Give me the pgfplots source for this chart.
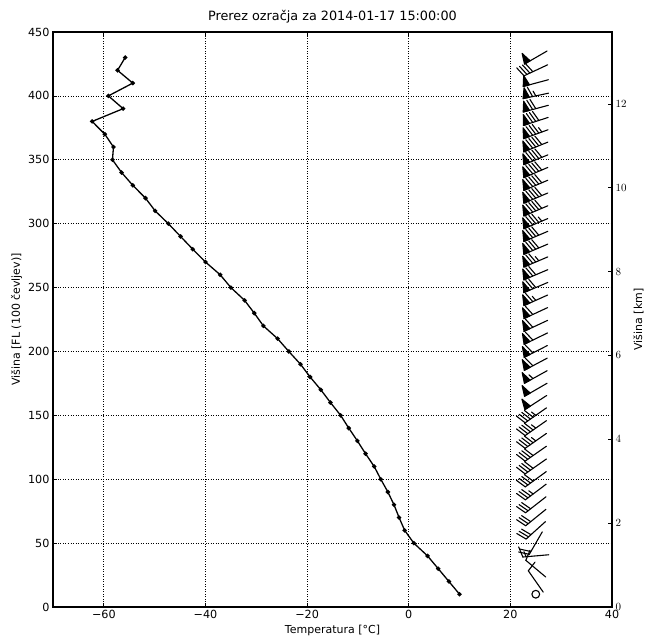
\documentclass[border=0pt]{standalone}
\usepackage{pgfplots}
\pgfplotsset{compat=1.18}
\usepackage{pgfplotstable}
\usepackage{fontspec}
\setmainfont{DejaVu Sans}

\pgfplotstableread{
FL T
10 10.0
20 7.9
30 5.8
40 3.7
50 1.0
60 -0.8
70 -1.9
80 -2.9
90 -4.1
100 -5.5
110 -6.8
120 -8.5
130 -10.1
140 -11.8
150 -13.4
160 -15.4
170 -17.3
180 -19.4
190 -21.3
200 -23.6
210 -25.8
220 -28.6
230 -30.4
240 -32.3
250 -35.0
260 -37.1
270 -40.0
280 -42.5
290 -44.9
300 -47.3
310 -49.9
320 -51.8
330 -54.3
340 -56.5
350 -58.3
360 -58.1
370 -59.8
380 -62.3
390 -56.2
400 -59.1
410 -54.3
420 -57.3
430 -55.8
}\temptable

% wind: position (x, FL), meta = speed [kt] / staff angle [deg]
\pgfplotstableread{
x FL m
25 10 0/0
25 20 10/-55
25 30 10/-40
25 40 15/5
25 50 20/60
25 60 30/42
25 70 30/39
25 80 30/38
25 90 35/37
25 100 40/36
25 110 40/35
25 120 40/35
25 130 45/35
25 140 45/35
25 150 45/35
25 160 50/33
25 170 50/30
25 180 55/29
25 190 60/28
25 200 60/27
25 210 60/26
25 220 60/25
25 230 60/25
25 240 65/24
25 250 70/23
25 260 70/23
25 270 75/23
25 280 80/23
25 290 80/23
25 300 85/23
25 310 90/23
25 320 90/23
25 330 90/23
25 340 90/23
25 350 90/22
25 360 90/22
25 370 85/20
25 380 80/18
25 390 70/15
25 400 65/12
25 410 50/15
25 420 40/25
25 430 50/30
}\windtable

\def\parsebarb#1/#2\relax{\def\barbspd{#1}\def\barbang{#2}}

\pgfdeclareplotmark{barb}{%
  \pgfsetroundjoin\pgfsetroundcap
  \pgfmathtruncatemacro\bspd{round(\barbspd/5)*5}%
  \ifnum\bspd<5\relax
    \pgfpathcircle{\pgfpointorigin}{3.9pt}\pgfusepath{stroke}%
  \else
    \pgftransformrotate{\barbang}%
    \pgfmathtruncatemacro\bnf{floor(\bspd/50)}%
    \pgfmathtruncatemacro\bnb{floor((\bspd-50*\bnf)/10)}%
    \pgfmathtruncatemacro\bnh{(\bspd-50*\bnf-10*\bnb)/5}%
    \pgfpathmoveto{\pgfqpoint{13pt}{0pt}}%
    \pgfpathlineto{\pgfqpoint{-13pt}{0pt}}%
    \pgfusepath{stroke}%
    \def\bo{26}%
    \ifnum\bnf>0\relax
      \pgfpathmoveto{\pgfqpoint{-13pt}{0pt}}%
      \pgfpathlineto{\pgfqpoint{-9.75pt}{10.4pt}}%
      \pgfpathlineto{\pgfqpoint{-6.5pt}{0pt}}%
      \pgfpathclose
      \pgfusepath{fill,stroke}%
      \def\bo{16.25}%
    \fi
    \ifnum\bnb>0\relax
      \foreach \j in {1,...,\bnb}{%
        \pgfmathsetmacro\bx{13-\bo+(\j-1)*3.25}%
        \pgfpathmoveto{\pgfpoint{\bx pt}{0pt}}%
        \pgfpathlineto{\pgfpoint{\bx pt-3.25pt}{10.4pt}}%
        \pgfusepath{stroke}%
      }%
    \fi
    \ifnum\bnh>0\relax
      \pgfmathsetmacro\bh{\bo-\bnb*3.25}%
      \ifdim\bh pt=26pt \pgfmathsetmacro\bh{\bh-4.875}\fi
      \pgfmathsetmacro\bx{13-\bh}%
      \pgfpathmoveto{\pgfpoint{\bx pt}{0pt}}%
      \pgfpathlineto{\pgfpoint{\bx pt-1.625pt}{5.2pt}}%
      \pgfusepath{stroke}%
    \fi
  \fi
}

\begin{document}
\begin{tikzpicture}
\begin{axis}[name=main,
  scale only axis, width=559pt, height=575pt,
  xmin=-70, xmax=40, ymin=0, ymax=450,
  xtick={-60,-40,-20,0,20,40},
  xticklabels={−60,−40,−20,0,20,40},
  ytick={0,50,...,450},
  yticklabels={0,50,100,150,200,250,300,350,400,450},
  ytick pos=left, xtick pos=both,
  tick align=inside, major tick length=4pt,
  tick style={black, line width=0.7pt},
  axis line style={black, line width=1.3pt},
  grid=major,
  grid style={black, line width=0.7pt, dash pattern=on 1pt off 1.5pt},
  title={Prerez ozračja za 2014-01-17 15:00:00},
  title style={font=\fontsize{12.8}{14}\selectfont, yshift=-1pt},
  xlabel={Temperatura [°C]},
  ylabel={Višina [FL (100 čevljev)]},
  xlabel style={font=\fontsize{11}{12}\selectfont, yshift=1pt},
  ylabel style={font=\fontsize{11}{12}\selectfont, yshift=-1pt},
  ticklabel style={font=\fontsize{11.2}{13}\selectfont},
  clip=false,
]
\addplot[black, line width=1.3pt, mark=*, mark size=1.5pt] table[x=T, y=FL] {\temptable};
\addplot[black, scatter, only marks, mark=barb,
  line width=1.1pt,
  point meta=explicit symbolic,
  scatter/@pre marker code/.code={\pgfscope\expandafter\parsebarb\pgfplotspointmeta\relax},
  scatter/@post marker code/.code={\endpgfscope},
  mark options={black, fill=black, line width=1.1pt},
] table[x=x, y=FL, meta=m] {\windtable};
\end{axis}
\begin{axis}[
  at={(main.south west)}, anchor=south west,
  scale only axis, width=559pt, height=575pt,
  xmin=-70, xmax=40, ymin=0, ymax=13.716,
  axis x line=none, axis y line*=right,
  ytick={0,2,...,12},
  tick align=inside, major tick length=4pt,
  tick style={black, line width=0.7pt},
  axis line style={black, line width=1.3pt},
  ylabel={Višina [km]},
  ylabel style={font=\fontsize{11}{12}\selectfont},
  ticklabel style={font=\fontsize{11.2}{13}\selectfont},
]
\end{axis}
\pgfresetboundingbox
\path[use as bounding box] ([shift={(-53pt,-30pt)}]main.south west) rectangle ([shift={(34pt,32pt)}]main.north east);
\end{tikzpicture}
\end{document}
